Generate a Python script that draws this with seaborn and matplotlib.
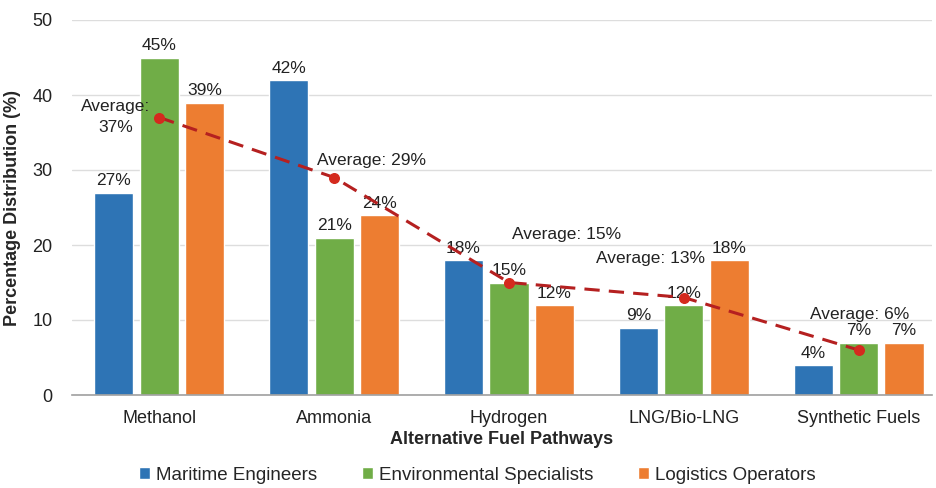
import numpy as np
import matplotlib
matplotlib.use('Agg')
import matplotlib.pyplot as plt
import pandas as pd
import seaborn as sns

# Chart data
fuels = ['Methanol', 'Ammonia', 'Hydrogen', 'LNG/Bio-LNG', 'Synthetic Fuels']
groups = ['Maritime Engineers', 'Environmental Specialists', 'Logistics Operators']
maritime = [27, 42, 18, 9, 4]
environmental = [45, 21, 15, 12, 7]
logistics = [39, 24, 12, 18, 7]
colors = ['#2E74B5', '#70AD47', '#ED7D31']

DF = pd.DataFrame({
    'fuel': fuels * 3,
    'group': [groups[0]] * 5 + [groups[1]] * 5 + [groups[2]] * 5,
    'value': maritime + environmental + logistics,
})
averages = DF.groupby('fuel', sort=False)['value'].mean().round().astype(int).tolist()

sns.set_style('white')
plt.rcParams['font.family'] = ['Liberation Sans', 'DejaVu Sans']

fig = plt.figure(figsize=(9.36, 4.88), dpi=100)
ax = fig.add_axes([72 / 936, 1 - 395 / 488, 860 / 936, 375 / 488])

sns.barplot(data=DF, x='fuel', y='value', hue='group', palette=colors, saturation=1,
            width=0.78, gap=0.14, errorbar=None, ax=ax, zorder=2)

# Value labels on bars
for cont in ax.containers:
    ax.bar_label(cont, fmt='%d%%', padding=3, fontsize=12.5, color='#222222')

# Average trend line
x = np.arange(len(fuels))
ax.plot(x, averages, color='#B52020', linestyle=(0, (5, 3)), linewidth=2.2, zorder=4)
ax.scatter(x, averages, color='#D42A1E', s=48, zorder=5)

# Average annotations
fs = 12.5
ax.text(x[0] - 0.25, averages[0] + 0.1, 'Average:\n37%', ha='center', va='center',
        fontsize=fs, color='#222222', linespacing=1.5, zorder=6)
ax.text(x[1] - 0.1, averages[1] + 2.2, 'Average: %d%%' % averages[1], ha='left', va='center',
        fontsize=fs, color='#222222', zorder=6)
ax.text(x[2] + 0.02, averages[2] + 6.4, 'Average: %d%%' % averages[2], ha='left', va='center',
        fontsize=fs, color='#222222', zorder=6)
ax.text(x[3] + 0.12, averages[3] + 5.2, 'Average: %d%%' % averages[3], ha='right', va='center',
        fontsize=fs, color='#222222', zorder=6)
ax.text(x[4] - 0.28, averages[4] + 4.8, 'Average: %d%%' % averages[4], ha='left', va='center',
        fontsize=fs, color='#222222', zorder=6)

ax.set_ylim(0, 50)
ax.set_xlim(-0.5, 4.42)
ax.set_yticks([0, 10, 20, 30, 40, 50])
ax.yaxis.grid(True, color='#DDDDDD', linewidth=1, zorder=0)
ax.set_axisbelow(True)
for s in ['top', 'right', 'left']:
    ax.spines[s].set_visible(False)
ax.spines['bottom'].set_color('#A0A0A0')
ax.spines['bottom'].set_linewidth(1.2)
ax.tick_params(axis='both', length=0, labelsize=13, colors='#222222')
ax.tick_params(axis='x', pad=11)
ax.tick_params(axis='y', pad=14)

ax.set_xlabel('Alternative Fuel Pathways', fontsize=13, fontweight='bold', labelpad=3)
ax.set_ylabel('Percentage Distribution (%)', fontsize=13, fontweight='bold', labelpad=8)

ax.legend_.remove()
handles, labels = ax.get_legend_handles_labels()
fig.legend(handles, labels, loc='center', bbox_to_anchor=(0.51, 13 / 488), ncol=3,
           frameon=False, fontsize=13.5, handlelength=0.6, handleheight=0.6,
           handletextpad=0.3, columnspacing=2.4)

fig.savefig('out.png', dpi=100)
